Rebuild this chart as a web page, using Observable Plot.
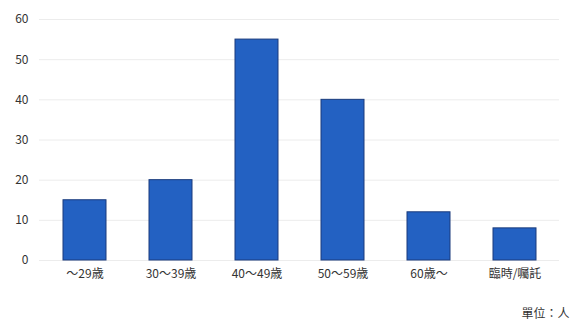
<!DOCTYPE html>
<html>
<head>
<meta charset="utf-8">
<script src="https://cdn.jsdelivr.net/npm/d3@7"></script>
<script src="https://cdn.jsdelivr.net/npm/@observablehq/plot@0.6"></script>
<style>
  html, body { margin: 0; padding: 0; background: #fff; }
  svg { display: block; }
</style>
</head>
<body>
<div id="chart"></div>
<script>
const categories = ["～29歳", "30～39歳", "40～49歳", "50～59歳", "60歳～", "臨時/囑託"];
const counts = [15, 20, 55, 40, 12, 8];
const yTicks = [0, 10, 20, 30, 40, 50, 60];
const unitLabel = "單位：人";

const data = categories.map((c, i) => ({category: c, value: counts[i]}));

const chart = Plot.plot({
  width: 576,
  height: 322,
  marginTop: 19,
  marginBottom: 62,
  marginLeft: 39,
  marginRight: 17,
  style: {fontFamily: "'Noto Sans CJK TC', 'Noto Sans', sans-serif", fontSize: "12px", color: "#333", background: "#fff"},
  x: {domain: categories, paddingInner: 0.5, paddingOuter: 0.25, label: null, tickSize: 0, tickPadding: 9},
  y: {domain: [0, 60], ticks: yTicks, label: null, tickSize: 0, tickPadding: 11},
  marks: [
    Plot.ruleY(yTicks, {stroke: "#ececec", strokeWidth: 1}),
    Plot.barY(data, {x: "category", y: "value", fill: "#2361c2", stroke: "#1a3b7c", strokeWidth: 1}),
    Plot.text([unitLabel], {frameAnchor: "bottom-right", dy: 57, dx: 10, text: d => d, fill: "#333", fontSize: 12})
  ]
});
document.getElementById("chart").append(chart);
</script>
</body>
</html>
